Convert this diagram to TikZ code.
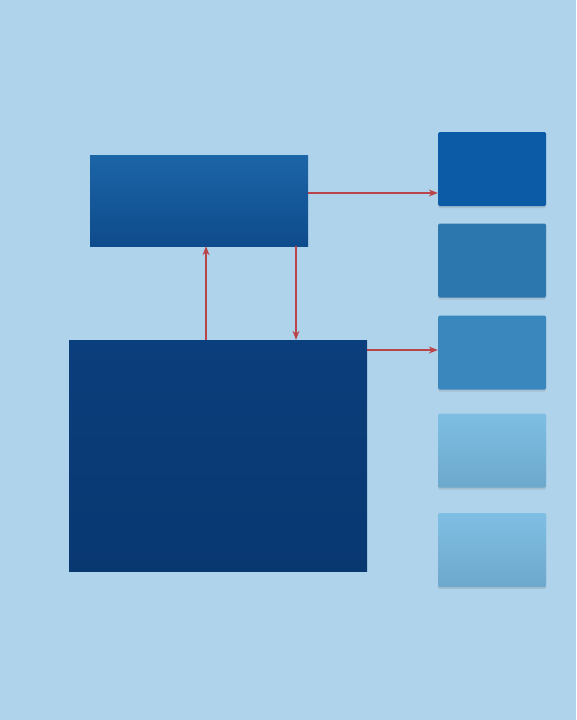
\documentclass[tikz,border=0pt]{standalone}
\usepackage{xcolor}
\usepackage{tikz}
\usetikzlibrary{arrows.meta,shadows}

\definecolor{bgblue}{HTML}{AFD3EB}
\definecolor{arrowred}{HTML}{B9454A}
\definecolor{ctrltop}{HTML}{1C65A7}
\definecolor{ctrlbot}{HTML}{0E4B8C}
\definecolor{coretop}{HTML}{0B3E7C}
\definecolor{corebot}{HTML}{093871}
\definecolor{outa}{HTML}{0B5BA6}
\definecolor{outb}{HTML}{2C77AE}
\definecolor{outc}{HTML}{3A87BD}
\definecolor{outd}{HTML}{78BBE2}
\definecolor{oute}{HTML}{79BBE2}

\tikzset{
  bigbox/.style={inner sep=0pt, draw=none},
  smallbox/.style={inner sep=0pt, draw=none, rounded corners=1.5pt,
    minimum width=108pt, minimum height=74pt,
    drop shadow={shadow xshift=0pt, shadow yshift=-2pt, opacity=0.25}},
  link/.style={draw=arrowred, line width=1.1pt, -{Stealth[length=9pt,width=7pt]}}
}

\begin{document}
\begin{tikzpicture}[x=1pt,y=-1pt]
\fill[bgblue] (0,0) rectangle (576,720);

% left side
\node[bigbox, minimum width=218pt, minimum height=91pt,
  top color=ctrltop, bottom color=ctrlbot] (ctrl) at (199,200.5) {};
\node[bigbox, minimum width=298pt, minimum height=231pt,
  top color=coretop, bottom color=corebot] (core) at (218,455.5) {};

% right column
\node[smallbox, fill=outa] (outA) at (492,169) {};
\node[smallbox, fill=outb] (outB) at (492,260.5) {};
\node[smallbox, fill=outc] (outC) at (492,352.5) {};
\node[smallbox, top color=outd!95!white, bottom color=outd!90!black] (outD) at (492,450.5) {};
\node[smallbox, top color=oute!95!white, bottom color=oute!90!black] (outE) at (492,550) {};

\coordinate (rowA) at (0,193);
\coordinate (rowC) at (0,350);
\coordinate (colUp) at (206,0);
\coordinate (colDown) at (296,0);

\draw[link] (ctrl.east |- rowA) -- (outA.west |- rowA);
\draw[link] (core.east |- rowC) -- (outC.west |- rowC);
\draw[link] (core.north -| colUp) -- (ctrl.south -| colUp);
\draw[link] (ctrl.south -| colDown) -- (core.north -| colDown);

\end{tikzpicture}
\end{document}
